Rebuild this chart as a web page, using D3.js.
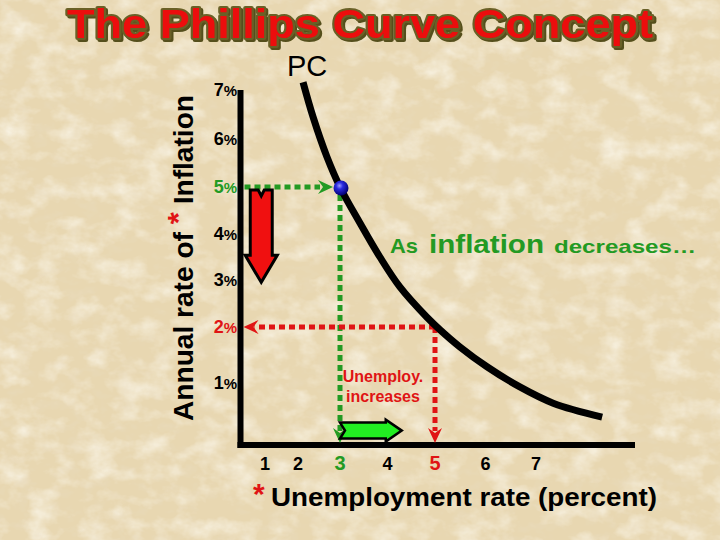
<!DOCTYPE html>
<html><head><meta charset="utf-8">
<script src="https://cdn.jsdelivr.net/npm/d3@7"></script>
<style>
html,body{margin:0;padding:0;background:#e8d8b4;}
svg{display:block;font-family:"Liberation Sans",Arial,sans-serif;}
</style>
</head><body>
<svg id="c" width="720" height="540"></svg>
<script>
// ---------- data ----------
const yTickValues = [1, 2, 3, 4, 5, 6, 7];
const xTickValues = [1, 2, 3, 4, 5, 6, 7];
const curveUnemp = [2.12, 2.36, 2.69, 3.01, 3.42, 3.84, 4.26, 4.83, 5.10, 5.50, 6.03, 6.68, 7.34, 8.31];
const curveInfl  = [7.16, 6.44, 5.62, 4.98, 4.23, 3.50, 2.86, 2.21, 1.95, 1.64, 1.29, 0.93, 0.64, 0.39];
const startPoint = {u: 3, pi: 5};
const endPoint = {u: 5, pi: 2};
const dropArrow = {u: 0.85, from: 5, to: 3};
const shiftArrow = {pi: 0.15, from: 3, to: 4.3};
const titleText = "The Phillips Curve Concept";
const xTitle = "Unemployment rate (percent)";
const curveLabel = "PC";

// ---------- setup ----------
const svg = d3.select("#c");
const W = 720, H = 540;
const x = d3.scaleLinear().domain([0, 1, 2, 3, 5, 7]).range([240, 265, 298, 340, 435, 536]);
const y = d3.scaleLinear().domain([1, 2, 5, 7]).range([383, 327, 187, 90]);
const axisX = 240.5, axisY = 445, axisRight = 635;

const GREEN = "#239a23", RED = "#e01414";

// background parchment
const defs = svg.append("defs");
const f1 = defs.append("filter").attr("id", "tex").attr("x", 0).attr("y", 0).attr("width", "100%").attr("height", "100%");
f1.append("feTurbulence").attr("type", "fractalNoise").attr("baseFrequency", "0.035 0.05").attr("numOctaves", 4).attr("seed", 3).attr("result", "n");
f1.append("feColorMatrix").attr("in", "n").attr("type", "matrix")
  .attr("values", "0 0 0 0 0.97  0 0 0 0 0.94  0 0 0 0 0.85  1.6 0 0 0 -0.70");
const f2 = defs.append("filter").attr("id", "tex2").attr("x", 0).attr("y", 0).attr("width", "100%").attr("height", "100%");
f2.append("feTurbulence").attr("type", "fractalNoise").attr("baseFrequency", "0.06 0.09").attr("numOctaves", 3).attr("seed", 11).attr("result", "n");
f2.append("feColorMatrix").attr("in", "n").attr("type", "matrix")
  .attr("values", "0 0 0 0 0.82  0 0 0 0 0.72  0 0 0 0 0.54  1.1 0 0 0 -0.56");
svg.append("rect").attr("width", W).attr("height", H).attr("fill", "#e8d7b1");
svg.append("rect").attr("width", W).attr("height", H).attr("filter", "url(#tex)");
svg.append("rect").attr("width", W).attr("height", H).attr("filter", "url(#tex2)");

// title shadow filter
const fs = defs.append("filter").attr("id", "tshadow").attr("x", "-5%").attr("y", "-20%").attr("width", "110%").attr("height", "140%");
fs.append("feDropShadow").attr("dx", 2).attr("dy", 2).attr("stdDeviation", 0.3).attr("flood-color", "#54501f").attr("flood-opacity", 1);

// blue ball gradient
const rg = defs.append("radialGradient").attr("id", "ball").attr("cx", "40%").attr("cy", "35%").attr("r", "65%");
rg.append("stop").attr("offset", "0%").attr("stop-color", "#9a9aff");
rg.append("stop").attr("offset", "35%").attr("stop-color", "#2a2ae0");
rg.append("stop").attr("offset", "100%").attr("stop-color", "#000070");

// ---------- title ----------
svg.append("text").attr("x", 360).attr("y", 38).attr("text-anchor", "middle")
  .attr("font-weight", "bold").attr("font-size", 41)
  .attr("textLength", 586).attr("lengthAdjust", "spacingAndGlyphs")
  .attr("fill", "#ec0a0a").attr("stroke", "#6a6128").attr("stroke-width", 4)
  .attr("stroke-linejoin", "round").attr("paint-order", "stroke")
  .attr("filter", "url(#tshadow)").text(titleText);

// ---------- y axis label ----------
const yl = svg.append("text").attr("transform", `translate(193,421) rotate(-90)`)
  .attr("font-weight", "bold").attr("font-size", 27).attr("fill", "#000")
  .attr("textLength", 326).attr("lengthAdjust", "spacingAndGlyphs");
yl.append("tspan").text("Annual rate of ");
yl.append("tspan").attr("fill", RED).attr("font-size", 30).attr("dy", -5).text("*");
yl.append("tspan").attr("dy", 5).text(" Inflation");

// ---------- axes ----------
svg.append("line").attr("x1", axisX).attr("x2", axisX).attr("y1", y(7)).attr("y2", axisY + 3)
  .attr("stroke", "#000").attr("stroke-width", 6);
svg.append("line").attr("x1", axisX - 3).attr("x2", axisRight).attr("y1", axisY).attr("y2", axisY)
  .attr("stroke", "#000").attr("stroke-width", 6);

// y tick labels
const yColor = v => v === startPoint.pi ? GREEN : v === endPoint.pi ? RED : "#000";
yTickValues.forEach(v => {
  const t = svg.append("text").attr("x", 237).attr("y", y(v) + 6).attr("text-anchor", "end")
    .attr("font-weight", "bold").attr("fill", yColor(v));
  t.append("tspan").attr("font-size", 18).text(v);
  t.append("tspan").attr("font-size", 15).text("%");
});

// x tick labels
const xColor = v => v === startPoint.u ? GREEN : v === endPoint.u ? RED : "#000";
xTickValues.forEach(v => {
  svg.append("text").attr("x", x(v)).attr("y", 470).attr("text-anchor", "middle")
    .attr("font-weight", "bold").attr("font-size", (v === startPoint.u || v === endPoint.u) ? 20 : 18)
    .attr("fill", xColor(v)).text(v);
});

// x axis title
svg.append("text").attr("x", 253).attr("y", 504).attr("font-weight", "bold").attr("font-size", 30)
  .attr("fill", RED).text("*");
svg.append("text").attr("x", 271).attr("y", 506).attr("font-weight", "bold").attr("font-size", 26)
  .attr("textLength", 386).attr("lengthAdjust", "spacingAndGlyphs").attr("fill", "#000").text(xTitle);

// ---------- dotted guides ----------
function dotted(x1, y1, x2, y2, color) {
  svg.append("line").attr("x1", x1).attr("y1", y1).attr("x2", x2).attr("y2", y2)
    .attr("stroke", color).attr("stroke-width", 5).attr("stroke-dasharray", "6,4");
}
function head(tipX, tipY, dir, color) {
  const L = 15, Wd = 7, notch = 5;
  const g = svg.append("g").attr("transform", `translate(${tipX},${tipY}) rotate(${dir})`);
  g.append("path").attr("d", `M0,0 L${-L},${-Wd} L${-L + notch},0 L${-L},${Wd} Z`).attr("fill", color);
}
const sx = x(startPoint.u), sy = y(startPoint.pi);
const ex = x(endPoint.u), ey = y(endPoint.pi);
dotted(axisX + 4, sy, sx - 20, sy, GREEN);
head(sx - 7, sy, 0, GREEN);
dotted(sx, sy + 8, sx, axisY - 14, GREEN);
head(sx, axisY - 2, 90, GREEN);
dotted(ex, ey, axisX + 14, ey, RED);
head(axisX + 3, ey, 180, RED);
dotted(ex, ey, ex, axisY - 14, RED);
head(ex, axisY - 2, 90, RED);

// ---------- curve ----------
const curvePts = curveUnemp.map((u, i) => ({u, pi: curveInfl[i]}));
const line = d3.line().x(d => x(d.u)).y(d => y(d.pi)).curve(d3.curveCatmullRom.alpha(0.5));
svg.append("path").attr("d", line(curvePts)).attr("fill", "none").attr("stroke", "#000").attr("stroke-width", 7);

svg.append("text").attr("x", x(curveUnemp[0]) + 4).attr("y", 76).attr("text-anchor", "middle")
  .attr("font-size", 29).attr("fill", "#000").text(curveLabel);

// ball
svg.append("circle").attr("cx", sx + 1).attr("cy", sy + 1).attr("r", 7.5).attr("fill", "url(#ball)");

// ---------- big arrows ----------
{
  const cx = x(dropArrow.u), top = y(dropArrow.from) + 3, tip = y(dropArrow.to) + 2;
  const bw = 11, hw = 16, hl = 27;
  const p = `M${cx - bw},${top} L${cx - 3},${top} L${cx},${top + 6} L${cx + 3},${top} L${cx + bw},${top}
    L${cx + bw},${tip - hl} L${cx + hw},${tip - hl} L${cx},${tip} L${cx - hw},${tip - hl} L${cx - bw},${tip - hl} Z`;
  svg.append("path").attr("d", p).attr("fill", "#f01010").attr("stroke", "#000").attr("stroke-width", 3).attr("stroke-linejoin", "miter");
}
{
  const cy = y(shiftArrow.pi), left = x(shiftArrow.from), tip = x(shiftArrow.to);
  const bh = 8, hh = 11, hl = 16;
  const p = `M${left},${cy - bh} L${tip - hl},${cy - bh} L${tip - hl},${cy - hh} L${tip},${cy}
    L${tip - hl},${cy + hh} L${tip - hl},${cy + bh} L${left},${cy + bh} L${left + 5},${cy} Z`;
  svg.append("path").attr("d", p).attr("fill", "#22ee22").attr("stroke", "#000").attr("stroke-width", 2.5);
}

// ---------- annotations ----------
const ann = svg.append("g").attr("font-weight", "bold").attr("fill", GREEN);
ann.append("text").attr("x", 390).attr("y", 253).attr("font-size", 21).attr("textLength", 28).attr("lengthAdjust", "spacingAndGlyphs").text("As");
ann.append("text").attr("x", 429).attr("y", 253).attr("font-size", 26).attr("textLength", 115).attr("lengthAdjust", "spacingAndGlyphs").text("inflation");
ann.append("text").attr("x", 554).attr("y", 253).attr("font-size", 19).attr("textLength", 142).attr("lengthAdjust", "spacingAndGlyphs").text("decreases…");

const un = svg.append("g").attr("font-weight", "bold").attr("fill", RED).attr("font-size", 16).attr("text-anchor", "middle");
un.append("text").attr("x", 383).attr("y", 382).text("Unemploy.");
un.append("text").attr("x", 383).attr("y", 402).text("increases");
</script>
</body></html>
